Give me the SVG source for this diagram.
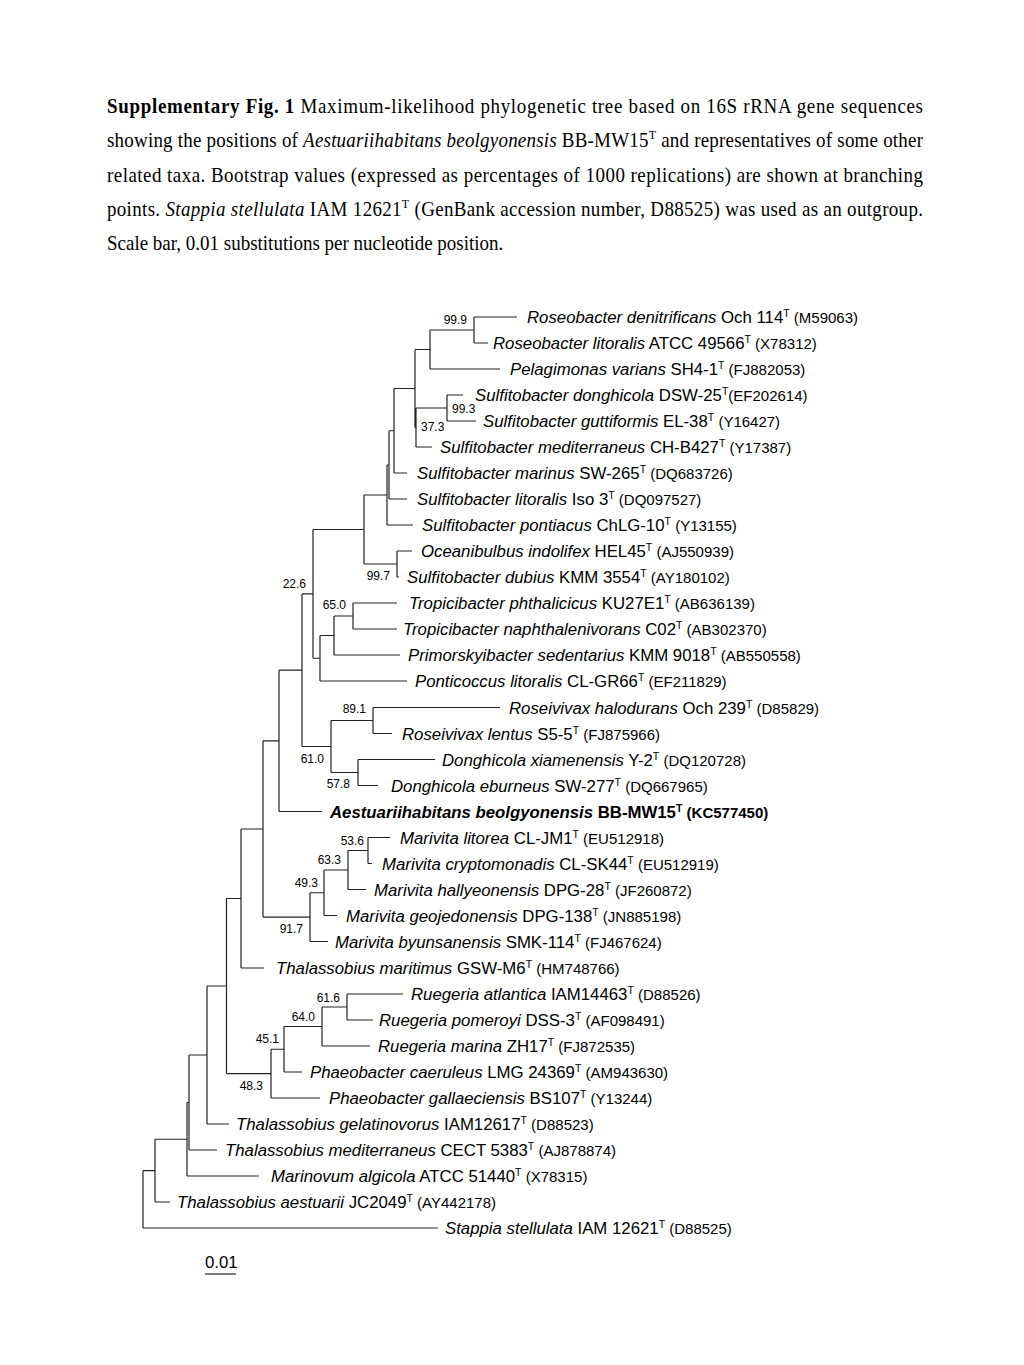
<svg xmlns="http://www.w3.org/2000/svg" width="1024" height="1365" viewBox="0 0 1024 1365">
<style>
.cap{font-family:"Liberation Serif","Times New Roman",serif;font-size:19px;fill:#000}
.b{font-weight:bold}
.i{font-style:italic}
.s{font-size:12px}
.lf{font-family:"Liberation Sans",Arial,sans-serif;font-size:16.8px;fill:#000}
.acc{font-size:15px}
.sup{font-size:10.5px}
.bs{font-family:"Liberation Sans",Arial,sans-serif;font-size:12px;fill:#000;text-anchor:end}
.bss{font-family:"Liberation Sans",Arial,sans-serif;font-size:12px;fill:#000}
.br{fill:none;stroke:#222;stroke-width:1.2}
</style>
<rect width="1024" height="1365" fill="#fff"/>
<g id="caption">
<text class="cap" transform="translate(107,113) scale(1,1.12)" x="0" y="0" textLength="816" lengthAdjust="spacing"><tspan class="b">Supplementary Fig. 1</tspan> Maximum-likelihood phylogenetic tree based on 16S rRNA gene sequences</text>
<text class="cap" transform="translate(107,147) scale(1,1.12)" x="0" y="0" textLength="816" lengthAdjust="spacing">showing the positions of <tspan class="i">Aestuariihabitans beolgyonensis</tspan> BB-MW15<tspan class="s" dy="-7">T</tspan><tspan dy="7"> and representatives of some other</tspan></text>
<text class="cap" transform="translate(107,182) scale(1,1.12)" x="0" y="0" textLength="816" lengthAdjust="spacing">related taxa. Bootstrap values (expressed as percentages of 1000 replications) are shown at branching</text>
<text class="cap" transform="translate(107,216) scale(1,1.12)" x="0" y="0" textLength="816" lengthAdjust="spacing">points. <tspan class="i">Stappia stellulata</tspan> IAM 12621<tspan class="s" dy="-7">T</tspan><tspan dy="7"> (GenBank accession number, D88525) was used as an outgroup.</tspan></text>
<text class="cap" transform="translate(107,250) scale(1,1.12)" x="0" y="0">Scale bar, 0.01 substitutions per nucleotide position.</text>
</g>
<g id="branches">
<path class="br" d="M474,317V343M474,317H517M474,343H488
M430,330V369M430,330H474M430,369H500
M447,395V421M447,395H463M447,421H476
M416,408V447M416,408H447M416,447H432
M415,349.5V427.5M415,349.5H430M415,427.5H416
M394,388.5V473M394,388.5H415M394,473H407
M389,430.75V499M389,430.75H394M389,499H407
M387,465V525M387,465H389M387,525H413
M397,551V577M397,551H412M397,577H399
M364,495V564M364,495H387M364,564H397
M353,603V629M353,603H397M353,629H397
M334,616V655M334,616H353M334,655H400
M320,635.5V681M320,635.5H334M320,681H407
M313,529.5V658.25M313,529.5H364M313,658.25H320
M373,707.5V733.5M373,707.5H500M373,733.5H392
M358,759.5V785.5M358,759.5H435M358,785.5H378
M331,720.5V772.5M331,720.5H373M331,772.5H358
M302,593.9V746.5M302,593.9H313M302,746.5H331
M279,670.2V811.5M279,670.2H302M279,811.5H322
M368,837.5V863.5M368,837.5H390M368,863.5H372
M348,850.5V889.5M348,850.5H368M348,889.5H366
M324,870V915.5M324,870H348M324,915.5H337
M310,892.75V941.5M310,892.75H324M310,941.5H328
M263,740.85V917.1M263,740.85H279M263,917.1H310
M241,829V968M241,829H263M241,968H264
M347,994V1020M347,994H403M347,1020H373
M322,1007V1046M322,1007H347M322,1046H370
M284,1026.5V1072M284,1026.5H322M284,1072H302
M271,1049.25V1098M271,1049.25H284M271,1098H320
M226.5,898.5V1073.6M226.5,898.5H241M226.5,1073.6H271
M207,986V1124M207,986H226.5M207,1124H229
M189,1055V1150M189,1055H207M189,1150H217
M187,1102.5V1176M187,1102.5H189M187,1176H259
M155,1139.25V1202M155,1139.25H187M155,1202H170
M143,1170.6V1228M143,1170.6H155M143,1228H438"/>
</g>
<g id="bootstrap">
<text class="bs" x="467" y="324">99.9</text>
<text class="bss" x="452" y="413">99.3</text>
<text class="bss" x="421" y="431">37.3</text>
<text class="bs" x="390" y="580">99.7</text>
<text class="bs" x="306" y="588">22.6</text>
<text class="bs" x="346" y="609">65.0</text>
<text class="bs" x="366" y="713">89.1</text>
<text class="bs" x="324" y="763">61.0</text>
<text class="bs" x="350" y="788">57.8</text>
<text class="bs" x="364" y="845">53.6</text>
<text class="bs" x="341" y="864">63.3</text>
<text class="bs" x="318" y="887">49.3</text>
<text class="bs" x="303" y="933">91.7</text>
<text class="bs" x="340" y="1002">61.6</text>
<text class="bs" x="315" y="1021">64.0</text>
<text class="bs" x="279" y="1043">45.1</text>
<text class="bs" x="263" y="1090">48.3</text>
</g>
<g id="leaf01"><text class="lf" x="527" y="323"><tspan class="i">Roseobacter denitrificans</tspan> Och 114<tspan class="sup" dy="-6">T</tspan><tspan class="acc" dy="6"> (M59063)</tspan></text></g>
<g id="leaf02"><text class="lf" x="493" y="349"><tspan class="i">Roseobacter litoralis</tspan> ATCC 49566<tspan class="sup" dy="-6">T</tspan><tspan class="acc" dy="6"> (X78312)</tspan></text></g>
<g id="leaf03"><text class="lf" x="510" y="375"><tspan class="i">Pelagimonas varians</tspan> SH4-1<tspan class="sup" dy="-6">T</tspan><tspan class="acc" dy="6"> (FJ882053)</tspan></text></g>
<g id="leaf04"><text class="lf" x="475" y="401"><tspan class="i">Sulfitobacter donghicola</tspan> DSW-25<tspan class="sup" dy="-6">T</tspan><tspan class="acc" dy="6">(EF202614)</tspan></text></g>
<g id="leaf05"><text class="lf" x="483" y="427"><tspan class="i">Sulfitobacter guttiformis</tspan> EL-38<tspan class="sup" dy="-6">T</tspan><tspan class="acc" dy="6"> (Y16427)</tspan></text></g>
<g id="leaf06"><text class="lf" x="440" y="453"><tspan class="i">Sulfitobacter mediterraneus</tspan> CH-B427<tspan class="sup" dy="-6">T</tspan><tspan class="acc" dy="6"> (Y17387)</tspan></text></g>
<g id="leaf07"><text class="lf" x="417" y="479"><tspan class="i">Sulfitobacter marinus</tspan> SW-265<tspan class="sup" dy="-6">T</tspan><tspan class="acc" dy="6"> (DQ683726)</tspan></text></g>
<g id="leaf08"><text class="lf" x="417" y="505"><tspan class="i">Sulfitobacter litoralis</tspan> Iso 3<tspan class="sup" dy="-6">T</tspan><tspan class="acc" dy="6"> (DQ097527)</tspan></text></g>
<g id="leaf09"><text class="lf" x="422" y="531"><tspan class="i">Sulfitobacter pontiacus</tspan> ChLG-10<tspan class="sup" dy="-6">T</tspan><tspan class="acc" dy="6"> (Y13155)</tspan></text></g>
<g id="leaf10"><text class="lf" x="421" y="557"><tspan class="i">Oceanibulbus indolifex</tspan> HEL45<tspan class="sup" dy="-6">T</tspan><tspan class="acc" dy="6"> (AJ550939)</tspan></text></g>
<g id="leaf11"><text class="lf" x="407" y="583"><tspan class="i">Sulfitobacter dubius</tspan> KMM 3554<tspan class="sup" dy="-6">T</tspan><tspan class="acc" dy="6"> (AY180102)</tspan></text></g>
<g id="leaf12"><text class="lf" x="409" y="609"><tspan class="i">Tropicibacter phthalicicus</tspan> KU27E1<tspan class="sup" dy="-6">T</tspan><tspan class="acc" dy="6"> (AB636139)</tspan></text></g>
<g id="leaf13"><text class="lf" x="403" y="635"><tspan class="i">Tropicibacter naphthalenivorans</tspan> C02<tspan class="sup" dy="-6">T</tspan><tspan class="acc" dy="6"> (AB302370)</tspan></text></g>
<g id="leaf14"><text class="lf" x="408" y="661"><tspan class="i">Primorskyibacter sedentarius</tspan> KMM 9018<tspan class="sup" dy="-6">T</tspan><tspan class="acc" dy="6"> (AB550558)</tspan></text></g>
<g id="leaf15"><text class="lf" x="415" y="687"><tspan class="i">Ponticoccus litoralis</tspan> CL-GR66<tspan class="sup" dy="-6">T</tspan><tspan class="acc" dy="6"> (EF211829)</tspan></text></g>
<g id="leaf16"><text class="lf" x="509" y="713.5"><tspan class="i">Roseivivax halodurans</tspan> Och 239<tspan class="sup" dy="-6">T</tspan><tspan class="acc" dy="6"> (D85829)</tspan></text></g>
<g id="leaf17"><text class="lf" x="402" y="739.5"><tspan class="i">Roseivivax lentus</tspan> S5-5<tspan class="sup" dy="-6">T</tspan><tspan class="acc" dy="6"> (FJ875966)</tspan></text></g>
<g id="leaf18"><text class="lf" x="442" y="765.5"><tspan class="i">Donghicola xiamenensis</tspan> Y-2<tspan class="sup" dy="-6">T</tspan><tspan class="acc" dy="6"> (DQ120728)</tspan></text></g>
<g id="leaf19"><text class="lf" x="391" y="791.5"><tspan class="i">Donghicola eburneus</tspan> SW-277<tspan class="sup" dy="-6">T</tspan><tspan class="acc" dy="6"> (DQ667965)</tspan></text></g>
<g id="leaf20"><text class="lf b" x="330" y="817.5"><tspan class="i">Aestuariihabitans beolgyonensis</tspan> BB-MW15<tspan class="sup" dy="-6">T</tspan><tspan class="acc" dy="6"> (KC577450)</tspan></text></g>
<g id="leaf21"><text class="lf" x="400" y="843.5"><tspan class="i">Marivita litorea</tspan> CL-JM1<tspan class="sup" dy="-6">T</tspan><tspan class="acc" dy="6"> (EU512918)</tspan></text></g>
<g id="leaf22"><text class="lf" x="382" y="869.5"><tspan class="i">Marivita cryptomonadis</tspan> CL-SK44<tspan class="sup" dy="-6">T</tspan><tspan class="acc" dy="6"> (EU512919)</tspan></text></g>
<g id="leaf23"><text class="lf" x="374" y="895.5"><tspan class="i">Marivita hallyeonensis</tspan> DPG-28<tspan class="sup" dy="-6">T</tspan><tspan class="acc" dy="6"> (JF260872)</tspan></text></g>
<g id="leaf24"><text class="lf" x="346" y="921.5"><tspan class="i">Marivita geojedonensis</tspan> DPG-138<tspan class="sup" dy="-6">T</tspan><tspan class="acc" dy="6"> (JN885198)</tspan></text></g>
<g id="leaf25"><text class="lf" x="335" y="947.5"><tspan class="i">Marivita byunsanensis</tspan> SMK-114<tspan class="sup" dy="-6">T</tspan><tspan class="acc" dy="6"> (FJ467624)</tspan></text></g>
<g id="leaf26"><text class="lf" x="276" y="974"><tspan class="i">Thalassobius maritimus</tspan> GSW-M6<tspan class="sup" dy="-6">T</tspan><tspan class="acc" dy="6"> (HM748766)</tspan></text></g>
<g id="leaf27"><text class="lf" x="411" y="1000"><tspan class="i">Ruegeria atlantica</tspan> IAM14463<tspan class="sup" dy="-6">T</tspan><tspan class="acc" dy="6"> (D88526)</tspan></text></g>
<g id="leaf28"><text class="lf" x="379" y="1026"><tspan class="i">Ruegeria pomeroyi</tspan> DSS-3<tspan class="sup" dy="-6">T</tspan><tspan class="acc" dy="6"> (AF098491)</tspan></text></g>
<g id="leaf29"><text class="lf" x="378" y="1052"><tspan class="i">Ruegeria marina</tspan> ZH17<tspan class="sup" dy="-6">T</tspan><tspan class="acc" dy="6"> (FJ872535)</tspan></text></g>
<g id="leaf30"><text class="lf" x="310" y="1078"><tspan class="i">Phaeobacter caeruleus</tspan> LMG 24369<tspan class="sup" dy="-6">T</tspan><tspan class="acc" dy="6"> (AM943630)</tspan></text></g>
<g id="leaf31"><text class="lf" x="329" y="1104"><tspan class="i">Phaeobacter gallaeciensis</tspan> BS107<tspan class="sup" dy="-6">T</tspan><tspan class="acc" dy="6"> (Y13244)</tspan></text></g>
<g id="leaf32"><text class="lf" x="236" y="1130"><tspan class="i">Thalassobius gelatinovorus</tspan> IAM12617<tspan class="sup" dy="-6">T</tspan><tspan class="acc" dy="6"> (D88523)</tspan></text></g>
<g id="leaf33"><text class="lf" x="225" y="1156"><tspan class="i">Thalassobius mediterraneus</tspan> CECT 5383<tspan class="sup" dy="-6">T</tspan><tspan class="acc" dy="6"> (AJ878874)</tspan></text></g>
<g id="leaf34"><text class="lf" x="271" y="1182"><tspan class="i">Marinovum algicola</tspan> ATCC 51440<tspan class="sup" dy="-6">T</tspan><tspan class="acc" dy="6"> (X78315)</tspan></text></g>
<g id="leaf35"><text class="lf" x="177" y="1208"><tspan class="i">Thalassobius aestuarii</tspan> JC2049<tspan class="sup" dy="-6">T</tspan><tspan class="acc" dy="6"> (AY442178)</tspan></text></g>
<g id="leaf36"><text class="lf" x="445" y="1234"><tspan class="i">Stappia stellulata</tspan> IAM 12621<tspan class="sup" dy="-6">T</tspan><tspan class="acc" dy="6"> (D88525)</tspan></text></g>
<g id="scalebar">
<text class="lf" x="205" y="1268">0.01</text>
<path class="br" d="M205,1274H236"/>
</g>
</svg>
